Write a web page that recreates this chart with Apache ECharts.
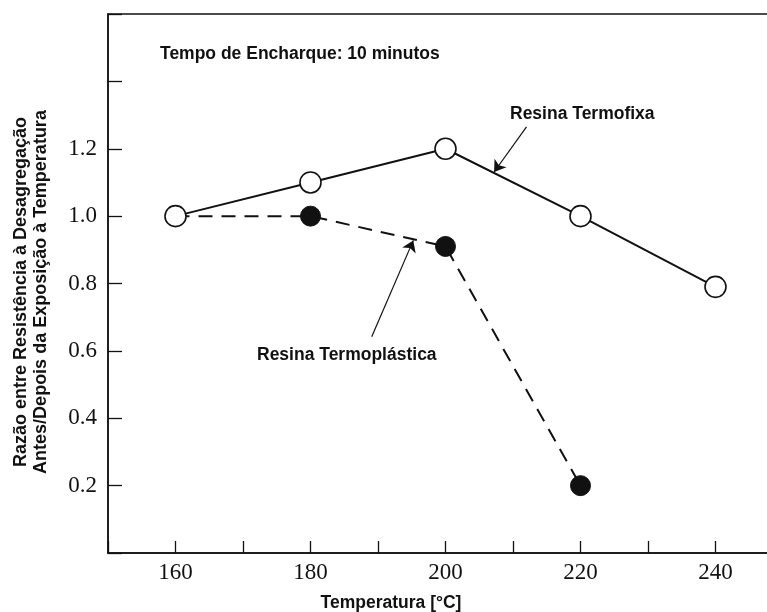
<!DOCTYPE html>
<html>
<head>
<meta charset="utf-8">
<script src="https://cdn.jsdelivr.net/npm/echarts@6/dist/echarts.min.js"></script>
<style>html,body{margin:0;padding:0;background:#fff;overflow:hidden;}#c{width:800px;height:612px;}</style>
</head>
<body>
<div id="c"></div>
<script>
// ---- data ----
const tempsTermofixa = [160, 180, 200, 220, 240];
const termofixa = [1.0, 1.1, 1.2, 1.0, 0.79];
const tempsTermoplastica = [160, 180, 200, 220];
const termoplastica = [1.0, 1.0, 0.91, 0.2];
const xTickLabels = ['160', '180', '200', '220', '240'];
const yTickLabels = ['0.2', '0.4', '0.6', '0.8', '1.0', '1.2'];
// annotation arrows in data space: [tail, tip]
const arrowTermofixa = [[212.0, 1.265], [207.2, 1.131]];
const arrowTermoplastica = [[189.07, 0.642], [195.23, 0.928]];

const ink = '#111';
const sans = "'Liberation Sans', Arial, sans-serif";
const serif = "'Liberation Serif', 'Times New Roman', serif";

const chart = echarts.init(document.getElementById('c'));
const arrowML = (pts) => ({
  silent: true,
  symbol: ['none', 'arrow'],
  symbolSize: 11,
  label: { show: false },
  itemStyle: { color: ink },
  lineStyle: { color: ink, width: 1.2, type: 'solid' },
  emphasis: { disabled: true },
  data: [[{ coord: pts[0], itemStyle: { color: ink } }, { coord: pts[1], itemStyle: { color: ink } }]]
});

chart.setOption({
  backgroundColor: '#fff',
  animation: false,
  grid: { left: 108, top: 14, width: 675, bottom: 59, show: true, borderColor: ink, borderWidth: 1.5, backgroundColor: 'transparent' },
  xAxis: {
    type: 'value', min: 150, max: 250, interval: 10,
    axisLine: { lineStyle: { color: ink, width: 1.5 } },
    axisTick: { inside: true, length: 12, lineStyle: { color: ink, width: 1.3 } },
    splitLine: { show: false },
    axisLabel: {
      margin: 8, color: ink, fontFamily: serif, fontSize: 23,
      formatter: v => { const s = String(Math.round(v)); return xTickLabels.includes(s) ? s : ''; }
    }
  },
  yAxis: {
    type: 'value', min: 0, max: 1.6, interval: 0.2,
    axisLine: { show: true, lineStyle: { color: ink, width: 1.5 } },
    axisTick: { show: true, inside: true, length: 14, lineStyle: { color: ink, width: 1.3 } },
    splitLine: { show: false },
    axisLabel: {
      margin: 11, color: ink, fontFamily: serif, fontSize: 23,
      formatter: v => { const s = v.toFixed(1); return yTickLabels.includes(s) ? s : ''; }
    }
  },
  series: [
    {
      name: 'Resina Termoplástica', type: 'line',
      data: tempsTermoplastica.map((t, i) => [t, termoplastica[i]]),
      symbol: 'circle', symbolSize: 20,
      itemStyle: { color: ink, borderColor: ink, borderWidth: 1 },
      lineStyle: { color: ink, width: 2, type: [14, 9] },
      emphasis: { disabled: true },
      markLine: arrowML(arrowTermoplastica)
    },
    {
      name: 'Resina Termofixa', type: 'line',
      data: tempsTermofixa.map((t, i) => [t, termofixa[i]]),
      symbol: 'circle', symbolSize: 21,
      itemStyle: { color: '#fff', borderColor: ink, borderWidth: 1.6 },
      lineStyle: { color: ink, width: 2, type: 'solid' },
      emphasis: { disabled: true },
      markLine: arrowML(arrowTermofixa)
    }
  ],
  graphic: [
    { type: 'text', left: 160, top: 45, style: { text: 'Tempo de Encharque: 10 minutos', fill: ink, font: 'bold 17.5px ' + sans } },
    { type: 'text', left: 510, top: 105, style: { text: 'Resina Termofixa', fill: ink, font: 'bold 17.5px ' + sans } },
    { type: 'text', left: 257, top: 346, style: { text: 'Resina Termoplástica', fill: ink, font: 'bold 17.5px ' + sans } },
    { type: 'text', x: 391, y: 603, style: { text: 'Temperatura [°C]', fill: ink, font: 'bold 17.5px ' + sans, textAlign: 'center', textVerticalAlign: 'middle' } },
    { type: 'text', x: 31, y: 292, rotation: Math.PI / 2,
      style: { text: 'Razão entre Resistência à Desagregação\nAntes/Depois da Exposição à Temperatura', fill: ink, font: 'bold 18px ' + sans, lineHeight: 20, textAlign: 'center', textVerticalAlign: 'middle' } }
  ]
});
</script>
</body>
</html>
